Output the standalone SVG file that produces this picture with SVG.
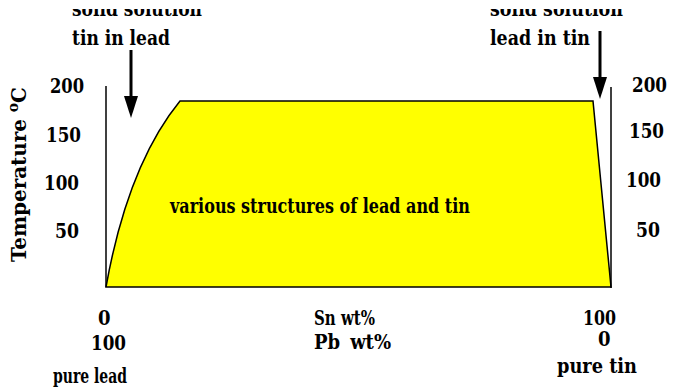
<svg xmlns="http://www.w3.org/2000/svg" width="674" height="389" viewBox="0 0 674 389">
<defs>
<style>
text{font-family:"DejaVu Serif Condensed","DejaVu Serif",serif;font-weight:bold;font-size:20px;fill:#000}
.ax{stroke:#000;stroke-width:1.5;fill:none}
.arr{stroke:#000;stroke-width:3;fill:none}
</style>
</defs>
<rect width="674" height="389" fill="#fff"/>
<g id="region">
<path d="M106,287 C118,220 140,150 180,101 L593,101 L611,287 Z" fill="#ffff00" stroke="#000" stroke-width="1.5"/>
<text x="170" y="213" textLength="300" lengthAdjust="spacingAndGlyphs">various structures of lead and tin</text>
</g>
<g id="axes">
<line class="ax" x1="106" y1="86" x2="106" y2="287"/>
<line class="ax" x1="611" y1="87" x2="611" y2="288"/>
</g>
<g id="left-labels">
<text x="50" y="93" textLength="34" lengthAdjust="spacingAndGlyphs">200</text>
<text x="46" y="142" textLength="35" lengthAdjust="spacingAndGlyphs">150</text>
<text x="44" y="190" textLength="35" lengthAdjust="spacingAndGlyphs">100</text>
<text x="55" y="238" textLength="24" lengthAdjust="spacingAndGlyphs">50</text>
<text transform="translate(26,262) rotate(-90)" font-size="21" textLength="175" lengthAdjust="spacingAndGlyphs">Temperature <tspan font-size="14" dy="-8">o</tspan><tspan dy="8">C</tspan></text>
</g>
<g id="right-labels">
<text x="632" y="92" textLength="35" lengthAdjust="spacingAndGlyphs">200</text>
<text x="629" y="138" textLength="35" lengthAdjust="spacingAndGlyphs">150</text>
<text x="626" y="187" textLength="35" lengthAdjust="spacingAndGlyphs">100</text>
<text x="636" y="237" textLength="24" lengthAdjust="spacingAndGlyphs">50</text>
</g>
<g id="connectors">
<line class="arr" x1="131" y1="50" x2="131" y2="100"/>
<polygon points="124,96 138,96 131,118" fill="#000"/>
<line class="arr" x1="600" y1="31" x2="600" y2="80"/>
<polygon points="593,77 607,77 600,99" fill="#000"/>
</g>
<g id="top-left-label">
<text x="72" y="16" textLength="130" lengthAdjust="spacingAndGlyphs">solid solution</text>
<text x="72" y="45" textLength="98" lengthAdjust="spacingAndGlyphs">tin in lead</text>
</g>
<g id="top-right-label">
<text x="490" y="16" textLength="133" lengthAdjust="spacingAndGlyphs">solid solution</text>
<text x="490" y="45" textLength="100" lengthAdjust="spacingAndGlyphs">lead in tin</text>
</g>
<rect x="0" y="0" width="674" height="9" fill="#fff"/>
<g id="bottom-labels">
<text x="98" y="325">0</text>
<text x="314" y="325" textLength="61" lengthAdjust="spacingAndGlyphs">Sn wt%</text>
<text x="583" y="325" textLength="33" lengthAdjust="spacingAndGlyphs">100</text>
<text x="91" y="350" textLength="35" lengthAdjust="spacingAndGlyphs">100</text>
<text x="314" y="349">Pb<tspan dx="10">wt%</tspan></text>
<text x="598" y="346">0</text>
<text x="53" y="383" textLength="74" lengthAdjust="spacingAndGlyphs">pure lead</text>
<text x="557" y="373" textLength="80" lengthAdjust="spacingAndGlyphs">pure tin</text>
</g>
</svg>
